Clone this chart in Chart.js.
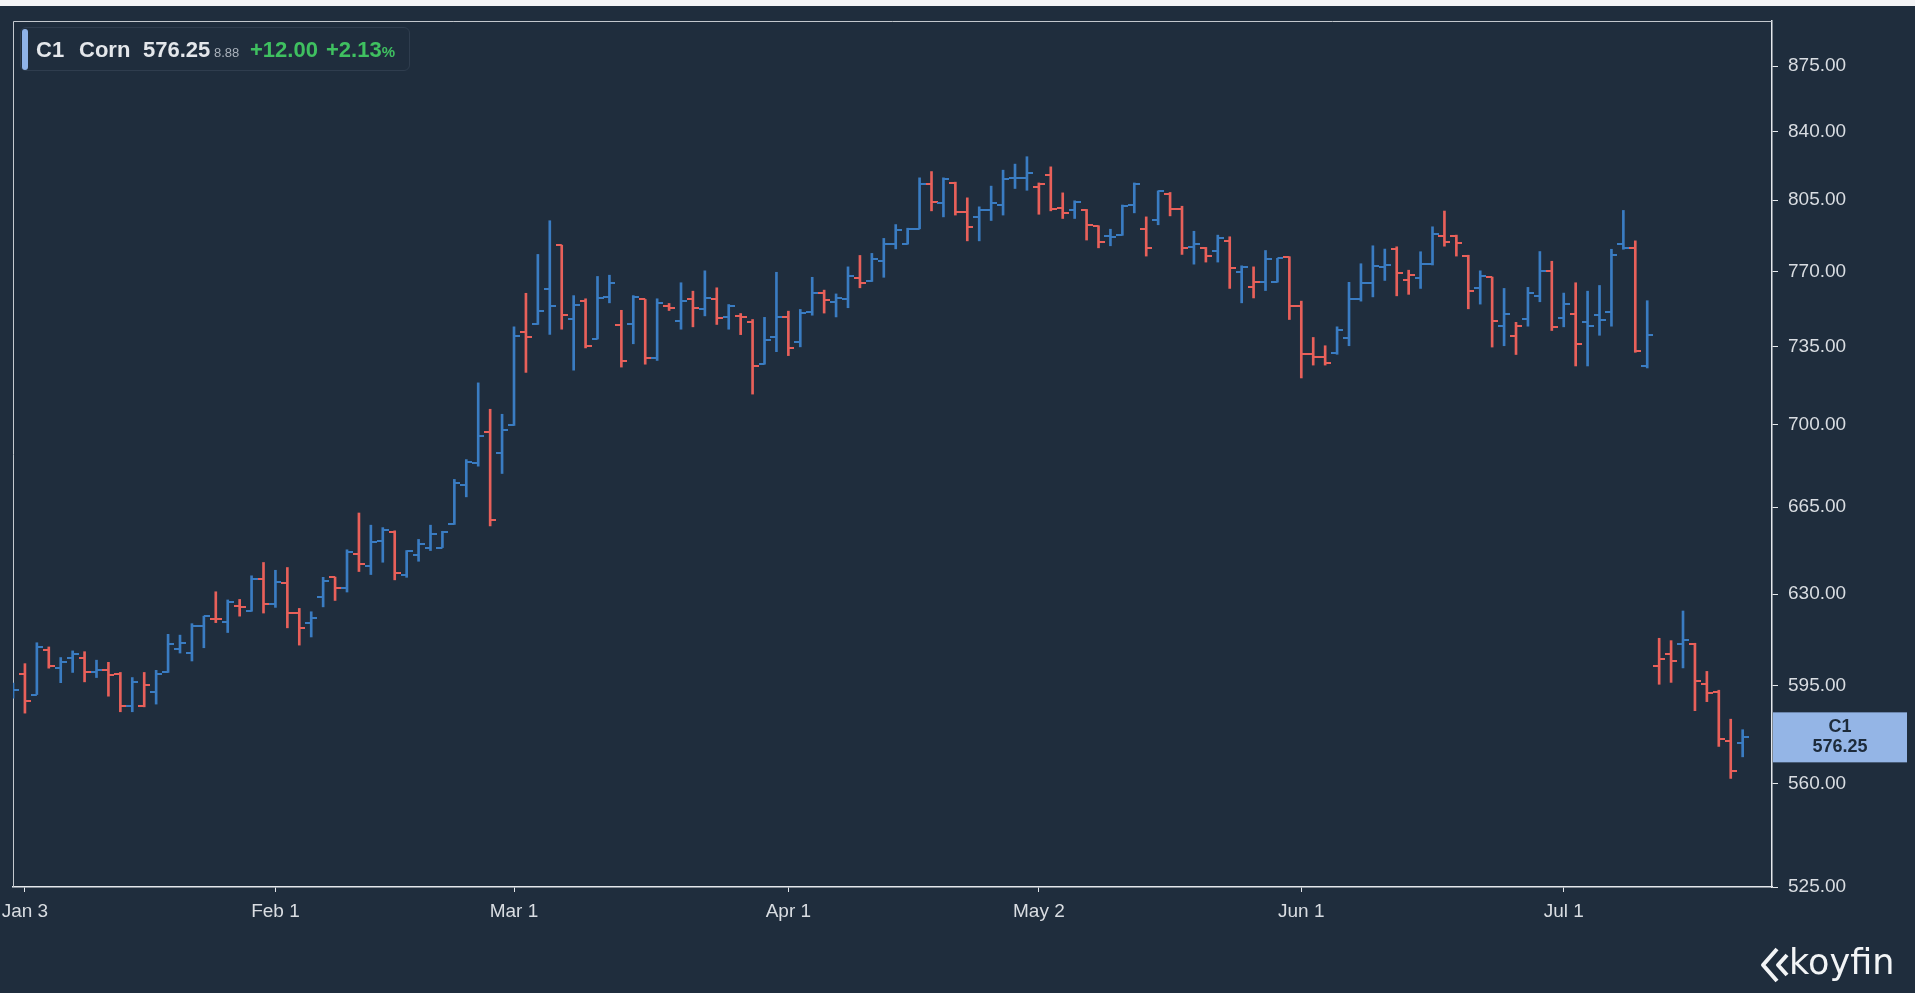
<!DOCTYPE html>
<html>
<head>
<meta charset="utf-8">
<script src="https://cdn.jsdelivr.net/npm/chart.js@4.4.1/dist/chart.umd.min.js"></script>
<style>
  html, body { margin: 0; padding: 0; background: #1f2d3d; overflow: hidden; }
  #wrap { position: relative; width: 1915px; height: 993px; }
  #c { position: absolute; left: 0; top: 0; }
  .topband { position: absolute; left: 0; top: 0; width: 1915px; height: 6px; background: #f3f4f6; }
  .legend {
    position: absolute; left: 20px; top: 27px; width: 390px; height: 44px;
    border: 1px solid #2f3d4e; border-radius: 6px; box-sizing: border-box;
    font-family: "Liberation Sans", Arial, sans-serif; color: #e4e7eb;
  }
  .legend .accent {
    position: absolute; left: 1px; top: 1px; width: 6px; height: 41px;
    background: #8fb3e8; border-radius: 4px;
  }
  .legend span { position: absolute; top: 11px; font-size: 22px; line-height: 22px; white-space: nowrap; }
  .b { font-weight: bold; }
  .g { color: #3fc060; font-weight: bold; }
  .logo {
    position: absolute; left: 1760px; top: 942px; height: 44px;
    font-family: "DejaVu Sans", sans-serif; color: #f2f4f6; font-size: 35px;
  }
  .logo svg { position: absolute; left: 0; top: 4px; }
  .logo span { position: absolute; left: 29px; top: 0px; white-space: nowrap; }
</style>
</head>
<body>
<div id="wrap">
  <canvas id="c" width="1915" height="993"></canvas>
  <div class="topband"></div>
  <div class="legend">
    <div class="accent"></div>
    <span class="b" style="left:15px">C1</span>
    <span class="b" style="left:58px">Corn</span>
    <span class="b" style="left:122px">576.25</span>
    <span style="left:193px;top:18px;font-size:13px;line-height:13px;color:#a9b1bb">8.88</span>
    <span class="g" style="left:229px">+12.00</span>
    <span class="g" style="left:305px">+2.13<small style="font-size:15px">%</small></span>
  </div>
  <div class="logo">
    <svg width="32" height="38" viewBox="0 0 32 38">
      <polyline points="17,3 3,19 17,35" fill="none" stroke="#f2f4f6" stroke-width="4" stroke-linejoin="round"/>
      <polyline points="27,9 18,19 27,29" fill="none" stroke="#f2f4f6" stroke-width="4" stroke-linejoin="round"/>
    </svg>
    <span>koyfin</span>
  </div>
</div>
<script>
// === Daily OHLC, one slot per weekday from Dec 31 2021 to Jul 22 2022 ===
const opens = [
  593.0, 599.3, 591.8, 608.3, 601.5, 605.3, 605.3, 600.0, 601.1, 599.3,
  587.5, 587.5, 592.9, 600.0, 608.8, 607.3, 617.6, 620.2, 619.1, 625.2,
  623.3, 635.8, 626.1, 634.5, 622.6, 618.8, 628.8, 636.7, 632.3, 646.1,
  641.0, 651.2, 655.0, 637.7, 645.6, 648.5, 648.5, 657.9, 674.1, 683.6,
  696.9, 688.0, 699.7, 741.7, 745.1, 761.6, 782.8, 747.5, 756.1, 738.4,
  758.0, 744.9, 745.2, 756.8, 729.9, 753.7, 746.5, 756.8, 752.2, 757.1,
  748.4, 749.0, 746.4, 726.9, 739.2, 748.4, 736.9, 750.7, 759.6, 755.7,
  756.9, 767.0, 765.5, 775.0, 783.4, 783.3, 790.8, 813.1, 803.4, 813.9,
  799.0, 796.7, 800.0, 802.7, 816.3, 816.3, 811.6, 817.7, 801.0, 799.9,
  800.0, 792.2, 787.4, 787.9, 802.6, 790.5, 795.1, 808.0, 800.7, 782.0,
  781.2, 780.2, 784.9, 769.9, 762.8, 765.0, 765.0, 777.1, 753.6, 731.4,
  730.2, 732.2, 739.0, 757.1, 764.5, 772.3, 781.0, 765.8, 767.0, 773.9,
  787.5, 787.5, 777.5, 762.0, 767.3, 744.3, 740.0, 747.8, 758.2, 770.1,
  748.1, 750.2, 746.1, 749.5, 750.8, 783.2, 781.2, 725.9, 602.5, 607.0,
  610.9, 610.9, 595.6, 592.7, 575.1, 574.4
];
const highs = [
  596.0, 603.3, 611.2, 609.6, 605.6, 608.1, 607.8, 604.6, 603.8, 600.0,
  598.1, 600.0, 600.8, 614.4, 614.1, 618.5, 621.4, 630.9, 627.7, 627.9,
  637.2, 642.5, 639.4, 640.5, 624.4, 623.1, 636.6, 636.7, 647.6, 662.6,
  657.6, 656.6, 655.3, 647.3, 651.8, 657.6, 655.1, 676.6, 685.0, 718.5,
  706.8, 704.6, 744.0, 759.7, 778.3, 794.8, 782.8, 758.6, 757.1, 767.7,
  768.3, 751.7, 758.6, 756.8, 757.1, 754.9, 764.7, 760.7, 770.4, 762.3,
  754.4, 750.2, 747.4, 748.4, 769.7, 751.3, 752.1, 767.3, 761.2, 759.4,
  772.3, 777.8, 778.8, 786.1, 792.9, 791.1, 816.3, 819.5, 816.3, 814.1,
  806.2, 801.7, 812.1, 820.2, 823.3, 827.1, 813.7, 821.9, 808.7, 804.7,
  800.4, 792.3, 790.6, 802.6, 813.7, 796.7, 809.7, 808.9, 802.0, 789.6,
  781.7, 787.7, 786.9, 772.8, 772.3, 780.2, 776.4, 777.2, 756.0, 739.1,
  735.3, 744.0, 764.9, 773.8, 782.5, 780.9, 782.0, 770.7, 779.6, 791.8,
  799.6, 787.7, 777.9, 770.4, 767.4, 762.0, 746.1, 762.5, 779.7, 775.0,
  759.8, 764.7, 760.7, 763.4, 780.8, 799.9, 784.9, 756.2, 612.9, 612.0,
  623.4, 611.0, 600.4, 593.4, 582.8, 579.0
];
const lows = [
  590.5, 585.0, 591.8, 601.6, 596.2, 600.0, 596.5, 598.1, 591.2, 585.5,
  585.5, 587.3, 588.3, 600.0, 607.3, 604.3, 609.3, 618.9, 615.1, 621.4,
  623.3, 622.6, 624.8, 616.9, 610.3, 613.4, 625.0, 627.5, 630.8, 638.9,
  637.7, 642.6, 635.6, 636.6, 643.0, 647.3, 648.5, 657.9, 669.3, 682.2,
  657.3, 679.1, 699.7, 723.2, 745.1, 740.5, 742.9, 724.2, 734.3, 738.4,
  755.2, 725.6, 736.2, 726.9, 728.6, 751.6, 742.9, 744.0, 749.1, 745.1,
  742.9, 740.4, 713.5, 726.9, 732.6, 730.8, 734.8, 749.4, 750.4, 748.6,
  752.9, 762.3, 765.3, 767.3, 781.0, 783.3, 790.8, 799.7, 796.7, 797.6,
  784.9, 784.9, 794.9, 797.6, 810.9, 810.0, 798.0, 799.7, 795.9, 795.9,
  785.3, 781.5, 782.5, 787.6, 798.7, 777.5, 792.8, 797.2, 778.3, 773.6,
  774.6, 774.6, 762.0, 755.2, 757.5, 761.0, 765.0, 747.4, 720.7, 726.5,
  726.5, 731.4, 735.3, 756.0, 758.0, 765.8, 758.5, 759.2, 762.0, 773.2,
  782.3, 777.5, 752.4, 754.6, 734.7, 735.3, 731.3, 744.3, 755.7, 742.3,
  744.0, 726.1, 726.1, 740.1, 744.3, 780.8, 732.3, 725.2, 595.6, 596.3,
  601.7, 585.9, 589.2, 573.0, 561.7, 569.3
];
const closes = [
  593.3, 589.5, 609.6, 602.4, 603.8, 606.9, 600.0, 601.1, 599.2, 587.5,
  596.4, 595.3, 599.6, 610.6, 611.1, 617.6, 621.4, 620.2, 626.9, 624.8,
  636.0, 626.1, 634.8, 622.6, 616.9, 620.5, 635.3, 632.3, 646.8, 641.8,
  650.9, 655.8, 638.2, 647.1, 650.1, 654.2, 655.0, 674.9, 683.9, 695.0,
  659.7, 697.7, 739.7, 739.1, 751.3, 753.5, 749.3, 754.4, 735.1, 757.7,
  764.7, 728.3, 758.0, 729.9, 754.9, 753.0, 756.1, 753.0, 757.7, 748.2,
  753.9, 748.4, 726.2, 738.0, 748.6, 734.1, 750.5, 759.6, 756.5, 757.7,
  767.8, 764.5, 776.3, 783.3, 790.2, 790.8, 813.1, 803.9, 815.6, 799.2,
  791.6, 800.0, 803.4, 815.5, 816.0, 818.8, 813.1, 800.7, 798.5, 803.9,
  792.5, 784.4, 786.6, 802.2, 813.4, 781.2, 809.4, 800.7, 781.5, 783.3,
  777.7, 786.2, 771.7, 772.3, 765.0, 776.2, 776.4, 753.6, 731.4, 730.2,
  727.5, 742.5, 757.1, 764.5, 772.9, 773.3, 769.3, 768.2, 773.9, 788.3,
  784.4, 783.8, 760.9, 768.0, 746.8, 750.2, 744.3, 759.6, 770.4, 744.0,
  754.6, 736.0, 744.3, 747.0, 778.2, 781.2, 733.0, 740.1, 605.1, 604.4,
  612.3, 596.8, 592.3, 575.8, 564.25, 576.25
];

// === Axis ticks ===
const xTickIndex = [1, 22, 42, 65, 86, 108, 130];
const xTickLabels = ["Jan 3", "Feb 1", "Mar 1", "Apr 1", "May 2", "Jun 1", "Jul 1"];
const yTicks = [525, 560, 595, 630, 665, 700, 735, 770, 805, 840, 875];
const lastSymbol = "C1";
const lastPrice = 576.25;

const BLUE = "#3a7cc2";
const RED = "#e8605a";
const AXIS = "#e4e7eb";
const TEXT = "#d9dde2";
const FONT = "'Liberation Sans', Arial, sans-serif";

// up/down colour follows the change from the previous close
const barColors = closes.map((c, i) => (i > 0 && c < closes[i - 1] ? RED : BLUE));

// small canvases used as point styles for the open (left) and close (right) ticks
function tickImage(color, side) {
  const cv = document.createElement("canvas");
  cv.width = 12;
  cv.height = 2;
  const g = cv.getContext("2d");
  g.fillStyle = color;
  g.fillRect(side === "left" ? 0 : 6, 0, 6, 2);
  return cv;
}
const openImg = { [BLUE]: tickImage(BLUE, "left"), [RED]: tickImage(RED, "left") };
const closeImg = { [BLUE]: tickImage(BLUE, "right"), [RED]: tickImage(RED, "right") };

// thin frame on the left and top of the plot
const framePlugin = {
  id: "frame",
  beforeDatasetsDraw(chart) {
    const { ctx, chartArea: a } = chart;
    ctx.save();
    ctx.strokeStyle = "#c3c8ce";
    ctx.lineWidth = 1;
    ctx.beginPath();
    ctx.moveTo(a.left + 0.5, a.bottom);
    ctx.lineTo(a.left + 0.5, a.top + 0.5);
    ctx.lineTo(a.right, a.top + 0.5);
    ctx.stroke();
    ctx.restore();
  },
};

// last price badge on the price axis
const lastPricePlugin = {
  id: "lastPrice",
  afterDraw(chart) {
    const { ctx } = chart;
    const y = chart.scales.y.getPixelForValue(lastPrice);
    const left = chart.chartArea.right + 1;
    ctx.save();
    ctx.fillStyle = "#94b5e6";
    ctx.fillRect(left, y - 25, 134, 50);
    ctx.fillStyle = "#1d2b3b";
    ctx.font = "bold 18px " + FONT;
    ctx.textAlign = "center";
    ctx.textBaseline = "middle";
    ctx.fillText(lastSymbol, left + 67, y - 10);
    ctx.fillText(lastPrice.toFixed(2), left + 67, y + 10);
    ctx.restore();
  },
};

const ctx = document.getElementById("c").getContext("2d");

new Chart(ctx, {
  type: "bar",
  data: {
    datasets: [
      {
        type: "bar",
        data: closes.map((c, i) => ({ x: i, y: [lows[i], highs[i]] })),
        backgroundColor: barColors,
        borderWidth: 0,
        barThickness: 2,
      },
      {
        type: "line",
        showLine: false,
        data: opens.map((o, i) => ({ x: i, y: o })),
        pointStyle: (c) => openImg[barColors[c.dataIndex]],
        pointRadius: 3,
      },
      {
        type: "line",
        showLine: false,
        data: closes.map((c, i) => ({ x: i, y: c })),
        pointStyle: (c) => closeImg[barColors[c.dataIndex]],
        pointRadius: 3,
      },
    ],
  },
  options: {
    responsive: false,
    animation: false,
    events: [],
    layout: { padding: { left: 13, top: 21, right: 0, bottom: 0 } },
    plugins: { legend: { display: false }, tooltip: { enabled: false } },
    scales: {
      x: {
        type: "linear",
        min: 0,
        max: 147.46,
        offset: false,
        afterBuildTicks: (scale) => {
          scale.ticks = xTickIndex.map((v) => ({ value: v }));
        },
        afterFit: (scale) => {
          scale.height = 106;
          scale.paddingLeft = 0;
          scale.paddingRight = 0;
        },
        ticks: {
          autoSkip: false,
          maxRotation: 0,
          padding: 8,
          color: TEXT,
          font: { family: FONT, size: 19 },
          callback: (v) => xTickLabels[xTickIndex.indexOf(v)],
        },
        grid: { display: true, drawOnChartArea: false, drawTicks: true, tickLength: 5, color: AXIS, offset: false },
        border: { display: true, color: AXIS, width: 1.5 },
      },
      y: {
        type: "logarithmic",
        position: "right",
        min: 525,
        max: 900,
        afterBuildTicks: (scale) => {
          scale.ticks = yTicks.map((v) => ({ value: v }));
        },
        afterFit: (scale) => {
          scale.width = 143;
          scale.paddingTop = 0;
          scale.paddingBottom = 0;
        },
        ticks: {
          padding: 10,
          color: TEXT,
          font: { family: FONT, size: 19 },
          callback: (v) => Number(v).toFixed(2),
        },
        grid: { display: true, drawOnChartArea: false, drawTicks: true, tickLength: 6, color: AXIS },
        border: { display: true, color: AXIS, width: 1.5 },
      },
    },
  },
  plugins: [framePlugin, lastPricePlugin],
});
</script>
</body>
</html>
